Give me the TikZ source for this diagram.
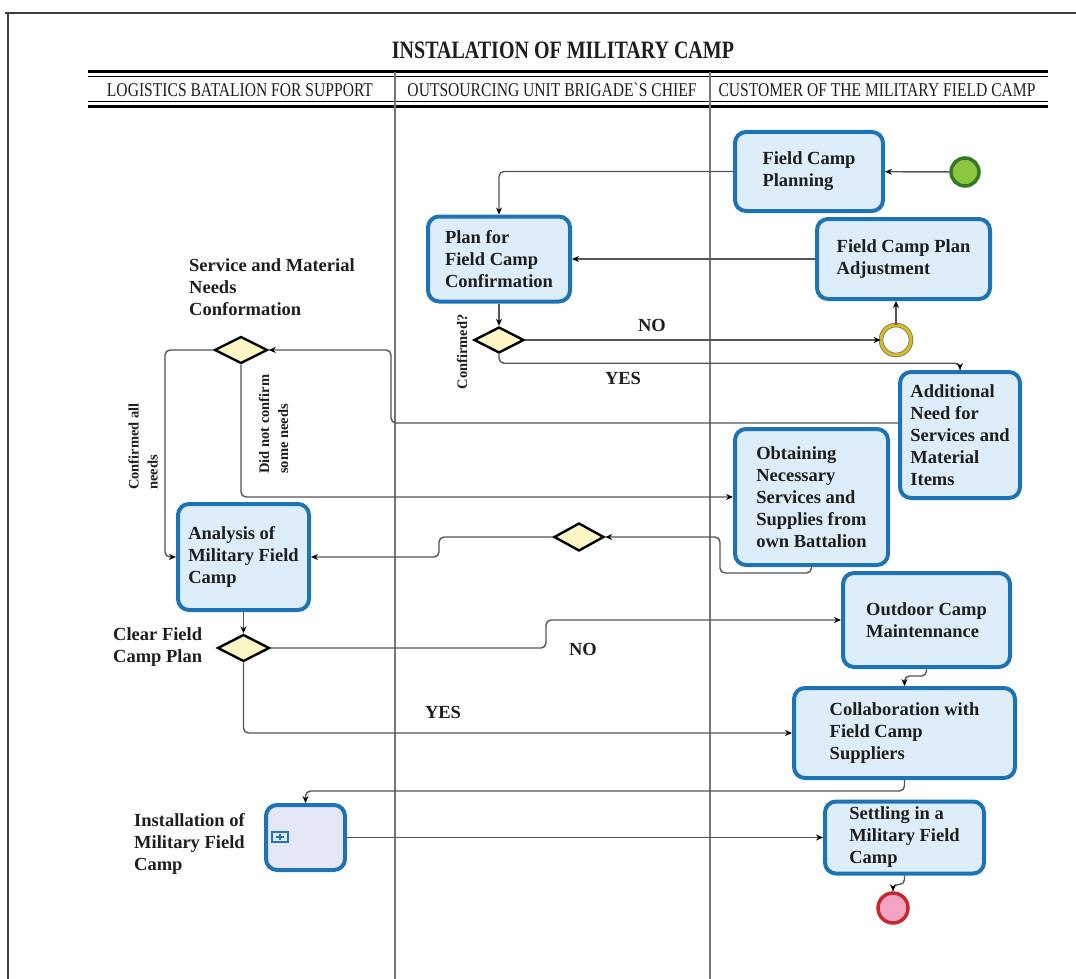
\documentclass[tikz,border=0pt]{standalone}
\usepackage{fontspec}
\setmainfont{Liberation Serif}
\newfontfamily\condfont[FakeStretch=0.8]{Liberation Serif}
\usepackage{xcolor}
\usepackage{tikz}
\usetikzlibrary{shapes.geometric,arrows.meta,positioning}
\definecolor{taskblue}{RGB}{30, 115, 180}
\definecolor{taskfill}{RGB}{221, 238, 250}
\definecolor{instfill}{RGB}{228, 232, 246}
\definecolor{flowgrey}{RGB}{85, 85, 85}
\definecolor{lanegrey}{RGB}{120, 120, 120}
\definecolor{gwfill}{RGB}{252, 246, 196}
\definecolor{startgreen}{RGB}{140, 198, 63}
\definecolor{startedge}{RGB}{55, 120, 35}
\definecolor{midyellow}{RGB}{215, 190, 30}
\definecolor{endpink}{RGB}{240, 165, 195}
\definecolor{endred}{RGB}{200, 40, 45}
\definecolor{inktext}{RGB}{30, 30, 30}
\newcommand\taskfont{\fontsize{18.5}{22}\selectfont\bfseries}
\newcommand\sidefont{\fontsize{14.5}{19}\selectfont\bfseries}

\begin{document}
\begin{tikzpicture}[x=1pt, y=-1pt, >={Stealth[length=7pt, width=6pt, color=black]},
    task/.style={draw=taskblue, line width=4, fill=taskfill, rounded corners=11,
        align=left, font=\taskfont, text=inktext, inner sep=4},
    gateway/.style={diamond, draw=black, line width=2.4, fill=gwfill, inner sep=0,
        minimum width=52, minimum height=27},
    flow/.style={->, draw=flowgrey, line width=1.4, rounded corners=5},
    lbl/.style={font=\taskfont, text=inktext, align=left, inner sep=0},
    sidelbl/.style={font=\sidefont, text=inktext, align=left, inner sep=0, rotate=90}]
    \useasboundingbox (0,0) rectangle (1076,979);

    % Frame
    \draw[line width=1.5, black!75] (5,13) -- (1076,13);
    \draw[line width=1.5, black!75] (8,13) -- (8,979);

    % Title and lane header
    \node[font=\condfont\bfseries\fontsize{25}{28}\selectfont, text=inktext] (title) at (563,50) {INSTALATION OF MILITARY CAMP};
    \draw[line width=3] (88,72) -- (1048,72);
    \draw[line width=1] (88,76.5) -- (1048,76.5);
    \draw[line width=1] (88,102) -- (1048,102);
    \draw[line width=3] (88,106.5) -- (1048,106.5);
    \draw[line width=1.5, lanegrey] (395,72) -- (395,979);
    \draw[line width=1.5, lanegrey] (710,72) -- (710,979);
    \node[font=\condfont\fontsize{19.5}{22}\selectfont, text=inktext] (laneone) at (240,90) {LOGISTICS BATALION FOR SUPPORT};
    \node[font=\condfont\fontsize{19.5}{22}\selectfont, text=inktext] (lanetwo) at (552,90) {OUTSOURCING UNIT BRIGADE`S CHIEF};
    \node[font=\condfont\fontsize{19.5}{22}\selectfont, text=inktext] (lanethree) at (877,90) {CUSTOMER OF THE MILITARY FIELD CAMP};

    % Tasks
    \node[task, minimum width=148, minimum height=79] (fcplan) at (809,171.5) {Field Camp\\Planning};
    \node[task, minimum width=142, minimum height=85] (plconf) at (499,259) {Plan for\\Field Camp\\Confirmation};
    \node[task, minimum width=173, minimum height=80] (adjust) at (903.5,259) {Field Camp Plan\\Adjustment};
    \node[task, minimum width=120, minimum height=126] (addneed) at (960,435) {Additional\\Need for\\Services and\\Material\\Items};
    \node[task, minimum width=153, minimum height=136] (obtain) at (811.5,497) {Obtaining\\Necessary\\Services and\\Supplies from\\own Battalion};
    \node[task, minimum width=131, minimum height=106] (analysis) at (243.5,557) {Analysis of\\Military Field\\Camp};
    \node[task, minimum width=167, minimum height=94] (outdoor) at (926.5,620) {Outdoor Camp\\Maintennance};
    \node[task, minimum width=221, minimum height=90] (collab) at (904.5,733) {Collaboration with\\Field Camp\\Suppliers};
    \node[task, fill=instfill, minimum width=79, minimum height=65] (install) at (305.5,837.5) {};
    \node[task, minimum width=159, minimum height=72, inner ysep=0] (settle) at (904.5,837.5) {Settling in a\\Military Field\\Camp};

    % Sub-process marker
    \draw[taskblue, line width=1.2] (272,832) rectangle (288,842);
    \draw[taskblue, line width=1.2] (276,837) -- (284,837) (280,834) -- (280,840);

    % Events
    \node[circle, draw=startedge, fill=startgreen, line width=3.5, minimum size=28, inner sep=0] (startev) at (965,172) {};
    \node[circle, draw=black!55, double=midyellow, double distance=3, fill=white, line width=0.8, minimum size=30, inner sep=0] (interev) at (896,340) {};
    \node[circle, draw=endred, fill=endpink, line width=3.5, minimum size=30, inner sep=0] (endev) at (893,908) {};

    % Gateways
    \node[gateway, minimum width=50, minimum height=26] (gwconf) at (499,340) {};
    \node[gateway, minimum width=53] (gwneeds) at (241,350) {};
    \node[gateway, minimum width=50, minimum height=28] (gwobtain) at (579,537) {};
    \node[gateway] (gwclear) at (243.5,648) {};

    % Bend points
    \coordinate (colleft) at (165,0);
    \coordinate (colmid) at (391,0);
    \coordinate (colgw) at (439,0);
    \coordinate (colno) at (546,0);
    \coordinate (obtbend) at (720,573);

    % Flows
    \draw[flow] (startev) -- (fcplan);
    \draw[flow] (fcplan.west) -| (plconf.north);
    \draw[flow] (plconf.south) -- (gwconf.north);
    \draw[flow] (gwconf.east) -- (interev.west);
    \draw[flow] (gwconf.south) -- ++(0,9) -| (addneed.north);
    \draw[flow] (interev.north) -- (interev.north |- adjust.south);
    \draw[flow] (adjust.west) -- (plconf.east);
    \draw[flow] ([yshift=12pt]addneed.west) -| (colmid |- gwneeds.east) -- (gwneeds.east);
    \draw[flow] (gwneeds.south) |- (obtain.west);
    \draw[flow] (gwneeds.west) -- (colleft |- gwneeds.west) |- (analysis.west);
    \draw[flow] (obtain.south) |- (obtbend) |- (gwobtain.east);
    \draw[flow] (gwobtain.west) -- (colgw |- gwobtain.west) |- (analysis.east);
    \draw[flow] (analysis.south) -- (gwclear.north);
    \draw[flow] (gwclear.east) -- (colno |- gwclear.east) |- (outdoor.west);
    \draw[flow] (gwclear.south) |- (collab.west);
    \draw[flow] (outdoor.south) -- ++(0,7) -| (collab.north);
    \draw[flow] (collab.south) -- ++(0,11) -| (install.north);
    \draw[flow] (install.east) -- (settle.west);
    \draw[flow] (settle.south) -- ++(0,9) -| (endev.north);

    % Labels
    \node[lbl, anchor=west] (needslbl) at (189,287) {Service and Material\\Needs\\Conformation};
    \node[lbl, anchor=west] (clearlbl) at (113,647.5) {Clear Field\\Camp Plan};
    \node[lbl, anchor=west] (instlbl) at (134,844) {Installation of\\Military Field\\Camp};
    \node[sidelbl] (conflbl) at (462,352) {Confirmed?};
    \node[sidelbl, anchor=west] (alllbl) at (143,490) {Confirmed all\\needs};
    \node[sidelbl, anchor=west] (somelbl) at (273.5,474) {Did not confirm\\some needs};
    \node[lbl] (nolbl) at (652,325) {NO};
    \node[lbl] (yeslbl) at (623,378) {YES};
    \node[lbl] (nolbltwo) at (583,649) {NO};
    \node[lbl] (yeslbltwo) at (443,712) {YES};
\end{tikzpicture}
\end{document}
